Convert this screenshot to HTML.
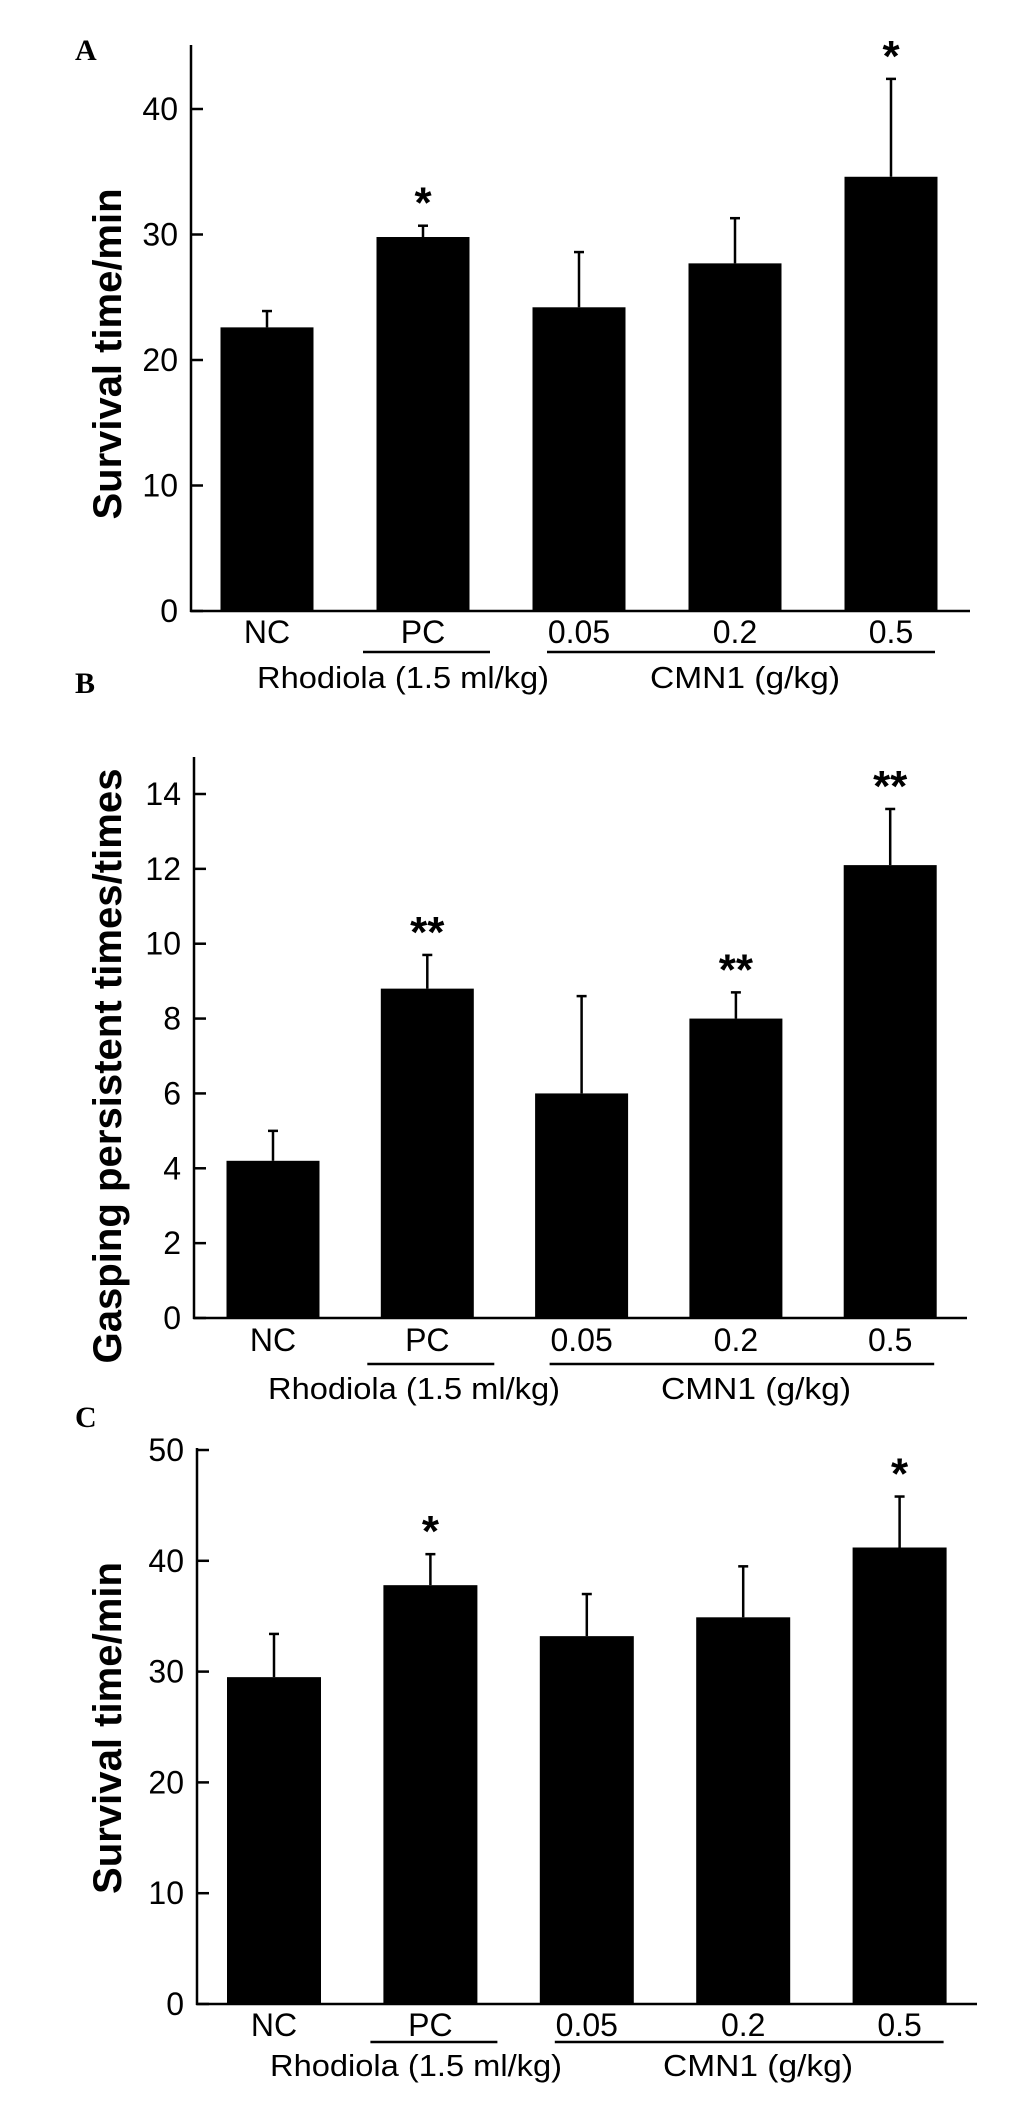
<!DOCTYPE html>
<html><head><meta charset="utf-8"><style>
html,body{margin:0;padding:0;background:#fff;}
svg{display:block;}
text{font-family:"Liberation Sans",Arial,sans-serif;fill:#000;}
</style></head><body>
<svg id="fig" width="1033" height="2107" viewBox="0 0 1033 2107" xmlns="http://www.w3.org/2000/svg">
<rect x="0" y="0" width="1033" height="2107" fill="#fff"/>
</svg>
<script>
const categories = ["NC", "PC", "0.05", "0.2", "0.5"];
const valuesA = [22.6, 29.8, 24.2, 27.7, 34.6];
const errorsA = [23.9, 30.7, 28.6, 31.3, 42.4];
const starsA = ["", "*", "", "", "*"];
const ticksA = [0, 10, 20, 30, 40];
const valuesB = [4.2, 8.8, 6.0, 8.0, 12.1];
const errorsB = [5.0, 9.7, 8.6, 8.7, 13.6];
const starsB = ["", "**", "", "**", "**"];
const ticksB = [0, 2, 4, 6, 8, 10, 12, 14];
const valuesC = [29.5, 37.8, 33.2, 34.9, 41.2];
const errorsC = [33.4, 40.6, 37.0, 39.5, 45.8];
const starsC = ["", "*", "", "", "*"];
const ticksC = [0, 10, 20, 30, 40, 50];

const NS = "http://www.w3.org/2000/svg";
const svg = document.getElementById("fig");
function mk(tag, attrs, parent, txt) {
  const e = document.createElementNS(NS, tag);
  for (const k in attrs) e.setAttribute(k, attrs[k]);
  if (txt !== undefined) e.textContent = txt;
  (parent || svg).appendChild(e);
  return e;
}

function panel(cfg) {
  const g = mk("g", {});
  
  
  const ax = cfg.axisX, y0 = cfg.zeroY;
  const yScale = v => y0 - (v - cfg.ticks[0]) * (y0 - cfg.topTickY) / (cfg.ticks[cfg.ticks.length - 1] - cfg.ticks[0]);
  const xCenter = i => cfg.c0 + i * cfg.step;

  const pl = mk("text", {x: 75, y: cfg.labelY, "font-weight": "bold", "font-size": 30, style: "font-family:'Liberation Serif',serif"}, g, cfg.id);
  
  

  const ya = mk("line", {x1: ax, y1: cfg.axisTop, x2: ax, y2: y0 + 1, stroke: "#000", "stroke-width": 2.5}, g);
  
  
  const xa = mk("line", {x1: ax - 1, y1: y0, x2: cfg.axisRight, y2: y0, stroke: "#000", "stroke-width": 2.5}, g);
  
  

  cfg.ticks.forEach(t => {
    const y = yScale(t);
    const tk = mk("line", {x1: ax, y1: y, x2: ax + 12, y2: y, stroke: "#000", "stroke-width": 2.5}, g);
    
    
    const tl = mk("text", {x: ax - 13, y: y + 11, "text-anchor": "end", "font-size": 32}, g, String(t));
    
    
  });

  const yt = mk("text", {x: 0, y: 0, "text-anchor": "middle", "font-size": 40, "font-weight": "bold",
    transform: "translate(121," + cfg.titleY + ") rotate(-90)", textLength: cfg.titleLen, lengthAdjust: "spacingAndGlyphs"}, g, cfg.title);
  
  

  categories.forEach((c, i) => {
    const cx = xCenter(i);
    const yv = yScale(cfg.values[i]);
    const ye = yScale(cfg.errors[i]);
    const eb = mk("line", {x1: cx, y1: yv, x2: cx, y2: ye, stroke: "#000", "stroke-width": 2.5}, g);
    
    
    const cap = mk("line", {x1: cx - 5, y1: ye, x2: cx + 5, y2: ye, stroke: "#000", "stroke-width": 2.5}, g);
    
    
    const b = mk("rect", {x: cx - cfg.bw / 2, y: yv, width: cfg.bw, height: y0 - yv, fill: "#000"}, g);
    
    
    if (cfg.stars[i]) {
      const s = mk("text", {x: cx, y: ye - 8, "text-anchor": "middle", "font-size": 44, "font-weight": "bold"}, g, cfg.stars[i]);
      
      
    }
    const xl = mk("text", {x: cx, y: cfg.catY + 11, "text-anchor": "middle", "font-size": 32}, g, c);
    
    
  });

  const l1 = mk("line", {x1: xCenter(1) - 60, y1: cfg.lineY, x2: xCenter(1) + 67, y2: cfg.lineY, stroke: "#000", "stroke-width": 2.5}, g);
  
  
  const l2 = mk("line", {x1: xCenter(2) - 32, y1: cfg.lineY, x2: xCenter(4) + 44, y2: cfg.lineY, stroke: "#000", "stroke-width": 2.5}, g);
  
  
  const g1 = mk("text", {x: cfg.rhX, y: cfg.grpY + 11, "font-size": 31, textLength: 292, lengthAdjust: "spacingAndGlyphs"}, g, "Rhodiola (1.5 ml/kg)");
  
  
  const g2 = mk("text", {x: cfg.rhX + 393, y: cfg.grpY + 11, "font-size": 31, textLength: 190, lengthAdjust: "spacingAndGlyphs"}, g, "CMN1 (g/kg)");
  
  
}

panel({id: "A", values: valuesA, errors: errorsA, stars: starsA, ticks: ticksA,
  axisX: 191, zeroY: 611, topTickY: 109, axisTop: 45, axisRight: 970,
  c0: 267, step: 156, bw: 93, catY: 632, lineY: 652, grpY: 677, rhX: 257,
  labelY: 60, title: "Survival time/min", titleY: 354, titleLen: 331});
panel({id: "B", values: valuesB, errors: errorsB, stars: starsB, ticks: ticksB,
  axisX: 194, zeroY: 1318, topTickY: 794, axisTop: 757, axisRight: 967,
  c0: 273, step: 154.3, bw: 93, catY: 1340, lineY: 1364, grpY: 1388, rhX: 268,
  labelY: 693, title: "Gasping persistent times/times", titleY: 1066, titleLen: 595});
panel({id: "C", values: valuesC, errors: errorsC, stars: starsC, ticks: ticksC,
  axisX: 197, zeroY: 2004, topTickY: 1450, axisTop: 1448, axisRight: 977,
  c0: 274, step: 156.4, bw: 94, catY: 2025, lineY: 2042, grpY: 2065, rhX: 270,
  labelY: 1427, title: "Survival time/min", titleY: 1728, titleLen: 332});
</script>
</body></html>
